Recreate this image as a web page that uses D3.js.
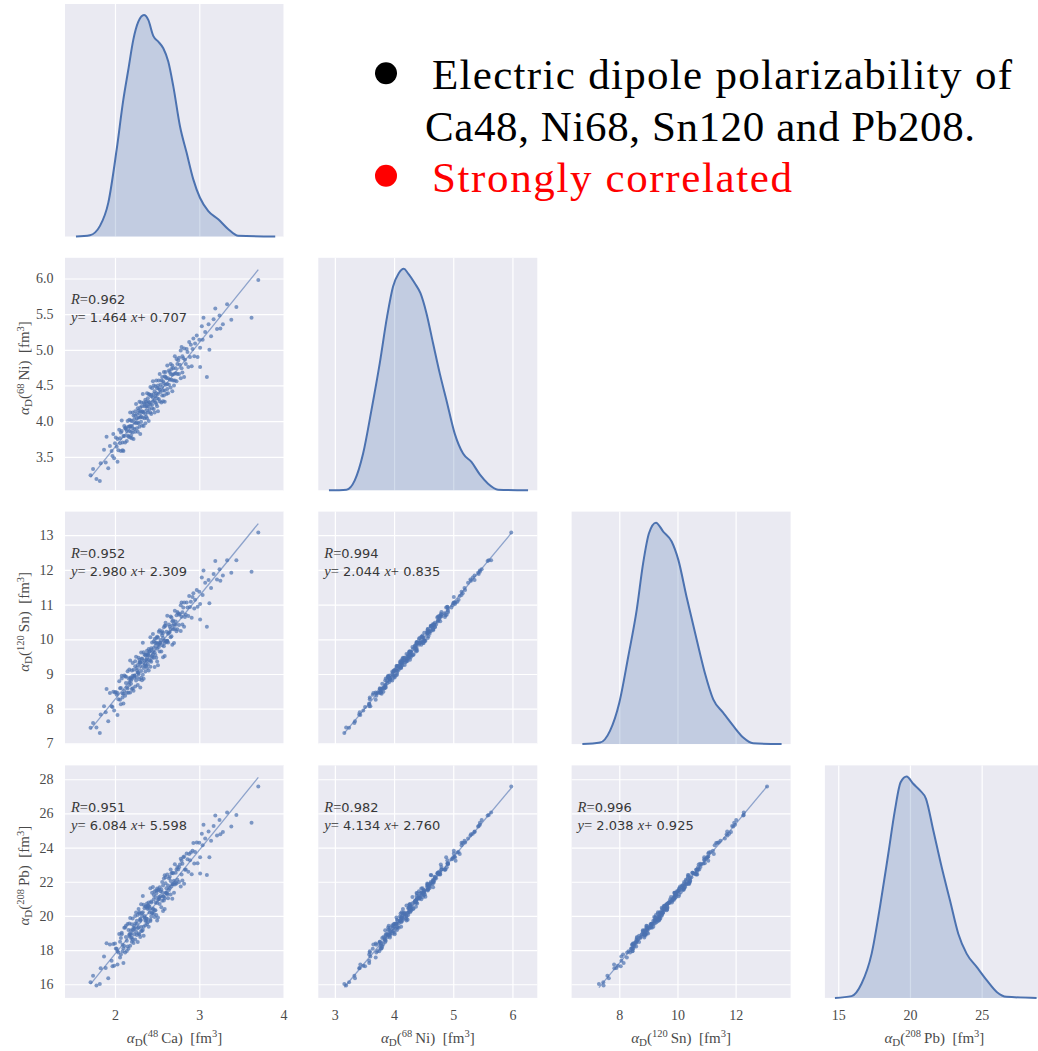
<!DOCTYPE html>
<html>
<head>
<meta charset="utf-8">
<script src="https://cdn.jsdelivr.net/npm/d3@7"></script>
<style>
  body { margin: 0; background: #fff; }
  svg { display: block; }
  text { white-space: pre; }
</style>
</head>
<body>
<svg id="chart" width="1038" height="1051"></svg>
<script>
var WIDTH = 1038;
var HEIGHT = 1051;
var PANEL_LEFT = 65;
var PANEL_TOP = 4;
var COL_STEP = 253.3;
var ROW_STEP = 253.8;
var PANEL_W = 219;
var PANEL_H = 232.5;
var BLUE = "#4c72b0";

var ELEMENTS = ["Ca", "Ni", "Sn", "Pb"];
var MASSES = ["48", "68", "120", "208"];
var X_DOMAINS = [[1.407, 4.005], [2.72, 6.42], [6.36, 13.89], [14.07, 29.34]];
var Y_DOMAINS = [[0, 1.05], [3.03, 6.29], [6.98, 13.68], [15.2, 28.81]];
var X_TICKS = [[2, 3, 4], [3, 4, 5, 6], [8, 10, 12], [15, 20, 25]];
var Y_TICKS = [[], [3.5, 4.0, 4.5, 5.0, 5.5, 6.0], [7, 8, 9, 10, 11, 12, 13], [16, 18, 20, 22, 24, 26, 28]];

// regression text shown in each lower panel [row, col]
var FIT_PAIRS = [[1, 0], [2, 0], [2, 1], [3, 0], [3, 1], [3, 2]];
var FIT_R = ["0.962", "0.952", "0.994", "0.951", "0.982", "0.996"];
var FIT_SLOPE = [1.464, 2.980, 2.044, 6.084, 4.134, 2.038];
var FIT_INTERCEPT = [0.707, 2.309, 0.835, 5.598, 2.760, 0.925];

// KDE curves on the diagonal, [value, density / peak]
var KDE_CA = [[1.537,0],[1.703,0.006],[1.822,0.048],[1.921,0.153],[2.020,0.393],[2.099,0.618],[2.158,0.753],[2.217,0.888],[2.277,0.970],[2.344,1.0],[2.395,0.978],[2.454,0.906],[2.514,0.880],[2.573,0.850],[2.632,0.790],[2.692,0.678],[2.771,0.498],[2.850,0.378],[2.929,0.258],[3.008,0.175],[3.107,0.115],[3.225,0.078],[3.344,0.033],[3.463,0.003],[3.901,0]];
var KDE_NI = [[2.90,0],[3.196,0.003],[3.336,0.045],[3.477,0.166],[3.618,0.362],[3.758,0.573],[3.882,0.784],[3.983,0.920],[4.079,0.980],[4.164,1.0],[4.236,0.980],[4.350,0.935],[4.446,0.890],[4.547,0.800],[4.659,0.664],[4.772,0.528],[4.885,0.407],[5.025,0.256],[5.166,0.166],[5.307,0.128],[5.448,0.072],[5.588,0.030],[5.757,0.003],[6.264,0]];
var KDE_SN = [[6.73,0],[7.34,0.007],[7.68,0.060],[8.0,0.187],[8.31,0.397],[8.60,0.607],[8.82,0.817],[9.02,0.952],[9.26,1.0],[9.51,0.960],[9.80,0.915],[10.03,0.832],[10.31,0.667],[10.66,0.472],[10.94,0.322],[11.23,0.202],[11.57,0.142],[11.92,0.082],[12.26,0.030],[12.60,0.004],[13.58,0]];
var KDE_PB = [[14.77,0],[15.93,0.008],[16.63,0.065],[17.33,0.200],[17.91,0.411],[18.49,0.651],[18.95,0.847],[19.35,0.974],[19.77,1.0],[20.23,0.967],[20.70,0.937],[21.12,0.899],[21.63,0.756],[22.21,0.591],[22.79,0.441],[23.37,0.290],[23.95,0.200],[24.65,0.140],[25.35,0.080],[26.05,0.027],[26.74,0.005],[28.83,0]];
var KDES = [KDE_CA, KDE_NI, KDE_SN, KDE_PB];

// samples: [Ca, Ni, Sn, Pb] polarizabilities (estimated from the clouds)
var SAMPLES = [
  [1.71,3.24,7.45,16.12],[1.74,3.33,7.59,16.49],[1.78,3.19,7.46,15.93],[1.82,3.16,7.30,16.02],[1.83,3.41,7.83,16.93],
  [1.87,3.60,8.07,17.62],[1.89,3.42,7.90,16.95],[1.90,3.78,8.57,18.40],[1.92,3.34,7.64,16.35],[1.94,3.65,8.45,18.33],
  [1.96,3.58,8.07,17.37],[1.97,3.51,8.05,17.05],[1.98,3.82,8.49,18.35],[1.99,3.48,7.95,17.08],[2.00,3.69,8.47,18.39],
  [2.01,3.77,8.48,18.09],[2.02,3.64,8.40,18.07],[2.03,3.43,7.82,17.16],[2.03,3.75,8.45,17.93],[2.04,3.59,8.27,17.86],
  [2.05,3.88,8.79,18.94],
  [2.06,3.69,8.26,17.56],[2.06,3.76,8.59,18.48],[2.07,3.58,8.13,17.74],[2.08,3.86,8.87,18.92],[2.08,4.01,8.95,19.02],
  [2.09,3.70,8.44,18.31],[2.10,3.79,8.43,18.11],[2.10,3.58,8.15,17.25],[2.11,3.93,8.96,19.31],[2.11,3.79,8.52,18.24],
  [2.12,3.90,8.93,19.32],[2.12,3.70,8.37,17.86],[2.13,3.89,8.74,18.77],[2.13,3.91,8.93,19.42],[2.14,3.72,8.46,17.95],
  [2.14,3.86,8.61,18.55],[2.15,4.00,9.08,19.53],[2.15,3.80,8.58,18.21],[2.09,3.59,8.32,17.93],[2.07,3.84,8.60,18.70],
  [2.16,3.92,8.88,19.17],[2.16,3.78,8.46,18.07],[2.17,4.02,9.13,19.55],[2.17,3.86,8.68,18.84],[2.18,4.12,9.39,19.88],
  [2.18,3.77,8.47,18.26],[2.18,3.93,8.88,18.97],[2.19,3.85,8.81,19.16],[2.19,4.01,8.90,18.92],[2.20,3.76,8.57,18.49],
  [2.20,3.93,8.86,18.73],[2.20,4.00,9.10,19.51],[2.21,3.84,8.59,18.60],[2.21,4.12,9.32,19.85],[2.21,3.90,8.95,19.17],
  [2.22,4.08,9.12,19.31],[2.22,3.75,8.52,18.42],[2.23,4.03,8.96,19.25],[2.23,3.89,8.89,18.92],[2.23,3.98,8.95,19.41],
  [2.24,4.14,9.37,19.99],[2.24,3.85,8.64,18.62],[2.24,4.08,9.22,19.56],[2.25,3.97,8.81,19.07],[2.25,4.24,9.50,20.20],
  [2.19,3.80,8.72,18.71],[2.17,3.92,8.77,18.91],
  [2.26,4.10,9.17,19.71],[2.26,3.90,8.91,18.88],[2.26,4.04,9.11,19.54],[2.27,4.18,9.26,20.05],[2.27,3.98,9.04,19.27],
  [2.27,3.85,8.68,18.47],[2.28,4.15,9.47,20.40],[2.28,4.05,9.03,19.33],[2.28,3.97,8.99,18.97],[2.29,4.27,9.41,20.22],
  [2.29,3.92,8.85,18.91],[2.29,4.11,9.33,20.14],[2.30,4.19,9.34,19.84],[2.30,4.05,9.23,19.77],[2.30,3.82,8.61,18.77],
  [2.30,4.14,9.33,19.72],[2.31,3.99,8.89,19.12],[2.31,4.26,9.62,20.68],[2.31,4.06,9.09,19.35],[2.32,4.14,9.43,20.16],
  [2.32,3.94,8.82,19.12],[2.32,4.21,9.45,20.00],[2.33,4.38,9.90,21.17],[2.33,4.05,8.98,19.18],[2.33,4.13,9.33,20.22],
  [2.34,3.93,8.86,18.84],[2.34,4.26,9.63,20.65],[2.34,4.12,9.17,19.36],[2.35,4.24,9.56,20.45],[2.35,4.04,9.23,19.91],
  [2.35,4.21,9.39,19.99],
  [2.36,4.10,9.28,19.72],[2.36,4.30,9.53,20.55],[2.36,3.97,9.07,19.45],[2.37,4.21,9.41,19.85],[2.37,4.27,9.56,20.55],
  [2.37,4.06,9.23,19.71],[2.38,4.39,9.67,20.72],[2.38,4.15,9.37,19.84],[2.38,4.25,9.46,20.47],[2.38,4.04,9.17,19.53],
  [2.39,4.32,9.55,20.40],[2.39,4.21,9.58,20.61],[2.39,4.12,9.28,19.63],[2.40,4.38,9.72,20.79],[2.40,4.00,9.10,19.37],
  [2.40,4.27,9.54,20.60],[2.41,4.37,9.65,20.54],[2.41,4.17,9.40,20.20],[2.41,4.26,9.65,20.44],[2.42,4.12,9.21,19.70],
  [2.42,4.48,10.06,21.62],[2.42,4.23,9.38,19.78],[2.43,4.35,9.74,20.85],[2.43,4.10,9.35,19.96],[2.43,4.37,9.69,20.78],
  [2.44,4.23,9.51,20.18],[2.44,4.46,9.91,21.36],[2.44,4.18,9.47,20.16],[2.45,4.33,9.56,20.44],[2.45,4.28,9.64,20.38],
  [2.45,4.56,10.15,21.69],
  [2.46,4.38,9.75,20.98],[2.46,4.17,9.47,20.13],[2.46,4.50,9.94,21.23],[2.47,4.29,9.63,20.33],[2.47,4.42,10.01,21.45],
  [2.47,4.12,9.20,19.93],[2.48,4.35,9.81,20.78],[2.48,4.49,9.89,21.10],[2.48,4.26,9.55,20.33],[2.49,4.39,9.91,21.33],
  [2.49,4.24,9.47,20.05],[2.49,4.57,10.04,21.48],[2.50,4.32,9.73,20.75],[2.50,4.46,10.07,21.60],[2.50,4.21,9.36,19.73],
  [2.51,4.50,10.05,21.48],[2.51,4.38,9.88,20.95],[2.51,4.14,9.25,19.91],[2.52,4.46,9.84,20.98],[2.52,4.57,10.22,21.55],
  [2.52,4.31,9.78,21.10],[2.53,4.44,9.90,21.06],[2.53,4.28,9.65,20.69],[2.53,4.66,10.26,21.68],[2.54,4.41,9.90,21.16],
  [2.54,4.51,9.98,21.45],[2.55,4.26,9.65,20.51],[2.55,4.57,10.18,21.54],
  [2.56,4.36,9.83,20.89],[2.56,4.62,10.23,21.99],[2.56,4.48,10.11,21.38],[2.57,4.28,9.48,20.29],[2.57,4.56,10.18,21.78],
  [2.57,4.43,10.04,21.15],[2.58,4.69,10.35,22.19],[2.58,4.36,9.80,20.90],[2.58,4.53,9.96,21.12],[2.59,4.63,10.39,22.38],
  [2.59,4.43,9.89,21.03],[2.59,4.27,9.52,20.41],[2.60,4.62,10.39,21.91],[2.60,4.51,9.96,21.35],[2.60,4.69,10.48,22.26],
  [2.61,4.38,9.92,21.34],[2.61,4.60,10.22,21.62],[2.62,4.52,9.95,21.26],[2.62,4.78,10.68,22.43],[2.62,4.45,9.96,21.32],
  [2.63,4.60,10.16,21.78],[2.63,4.39,9.91,21.04],[2.64,4.71,10.43,22.21],[2.64,4.51,10.19,21.51],[2.65,4.69,10.36,22.29],
  [2.65,4.58,10.21,21.62],
  [2.66,4.66,10.30,22.04],[2.66,4.47,10.06,21.25],[2.66,4.80,10.66,22.72],[2.67,4.58,10.09,21.72],[2.67,4.73,10.63,22.49],
  [2.68,4.42,9.84,21.00],[2.68,4.65,10.40,21.87],[2.68,4.78,10.52,22.52],[2.69,4.57,10.29,21.86],[2.69,4.74,10.54,22.50],
  [2.70,4.50,9.89,21.35],[2.70,4.66,10.44,22.06],[2.71,4.91,10.82,23.03],[2.71,4.57,10.30,21.84],[2.72,4.74,10.51,22.53],
  [2.72,4.67,10.42,21.95],[2.73,4.87,10.69,22.71],[2.73,4.56,10.23,21.90],[2.74,4.80,10.79,22.86],[2.74,4.66,10.29,22.11],
  [2.75,4.85,10.75,22.71],
  [2.76,4.66,10.41,21.99],[2.76,4.89,10.71,22.85],[2.77,4.79,10.73,23.01],[2.78,4.60,10.24,21.72],[2.78,4.99,10.98,23.34],
  [2.79,4.74,10.65,22.43],[2.80,4.91,10.78,23.06],[2.80,4.68,10.43,22.07],[2.81,4.88,10.92,23.44],[2.82,5.02,11.06,23.48],
  [2.82,4.62,10.36,21.88],[2.83,4.86,10.64,22.70],[2.84,4.80,10.71,22.72],[2.85,5.01,11.06,23.65],[2.79,5.04,11.06,23.23],
  [2.86,4.97,10.92,23.32],[2.87,4.76,10.67,22.58],[2.88,5.11,11.25,23.63],[2.89,4.90,10.93,23.26],[2.90,5.07,11.08,23.71],
  [2.91,4.77,10.62,22.44],[2.92,5.01,11.22,23.82],[2.93,5.16,11.33,24.27],[2.94,4.91,10.89,23.07],[2.95,5.09,11.14,23.74],
  [2.97,5.20,11.42,24.30],[2.98,4.90,10.94,23.08],[3.00,5.14,11.37,24.28],[3.01,5.03,11.02,23.43],[3.03,5.33,11.78,24.81],
  [3.04,5.14,11.28,24.13],[3.07,5.25,11.63,24.53],[3.09,4.62,10.36,22.40],[3.11,5.36,11.71,24.94],[3.14,5.19,11.48,24.40],
  [3.17,5.43,11.88,25.26],[3.21,5.29,11.72,24.71],[3.24,5.48,12.02,25.62],[3.28,5.36,11.84,24.91],[3.33,5.64,12.28,26.05],
  [3.44,5.60,12.28,25.90],[3.62,5.45,11.95,25.46],[3.70,5.98,13.08,27.57],[3.38,5.42,11.92,25.23],[3.19,5.58,12.26,25.88],
  [3.25,5.30,11.69,24.78],[3.05,5.45,11.98,25.34],[3.12,5.00,11.04,23.44],[3.01,4.76,10.57,22.48]
];

var LEGEND_LINES = [
  { text: "Electric dipole polarizability of", bullet: "#000000", color: "#000000" },
  { text: "Ca48, Ni68, Sn120 and Pb208.", bullet: null, color: "#000000" },
  { text: "Strongly correlated", bullet: "#ff0000", color: "#ff0000" }
];

var svg = d3.select("#chart");

function mathLabel(sel, mass, elem) {
  sel.append("tspan").attr("font-style", "italic").text("α");
  sel.append("tspan").attr("font-size", "11px").attr("dy", 3).text("D");
  sel.append("tspan").attr("dy", -3).text("(");
  sel.append("tspan").attr("font-size", "10.5px").attr("dy", -5.5).text(mass);
  sel.append("tspan").attr("dy", 5.5).text("\u2009" + elem + ")\u2002[fm");
  sel.append("tspan").attr("font-size", "10.5px").attr("dy", -5.5).text("3");
  sel.append("tspan").attr("dy", 5.5).text("]");
}

function gridLines(g, scale, ticks, vertical) {
  var axis = vertical
    ? d3.axisBottom(scale).tickValues(ticks).tickSize(-PANEL_H).tickFormat("")
    : d3.axisLeft(scale).tickValues(ticks).tickSize(-PANEL_W).tickFormat("");
  var a = g.append("g")
    .attr("transform", vertical ? "translate(0," + PANEL_H + ")" : null)
    .call(axis);
  a.select(".domain").remove();
  a.selectAll("line").attr("stroke", "#ffffff").attr("stroke-width", 1.2);
}

for (var row = 0; row < 4; row++) {
  for (var col = 0; col <= row; col++) {
    var g = svg.append("g")
      .attr("transform", "translate(" + (PANEL_LEFT + col * COL_STEP) + "," + (PANEL_TOP + row * ROW_STEP) + ")");
    g.append("rect").attr("width", PANEL_W).attr("height", PANEL_H).attr("fill", "#eaeaf2");

    var x = d3.scaleLinear().domain(X_DOMAINS[col]).range([0, PANEL_W]);
    var y = d3.scaleLinear().domain(row === col ? Y_DOMAINS[0] : Y_DOMAINS[row]).range([PANEL_H, 0]);

    gridLines(g, x, X_TICKS[col], true);

    if (row === col) {
      var kde = KDES[col];
      var area = d3.area().x(function (d) { return x(d[0]); }).y0(y(0)).y1(function (d) { return y(d[1]); })
        .curve(d3.curveMonotoneX);
      var line = d3.line().x(function (d) { return x(d[0]); }).y(function (d) { return y(d[1]); })
        .curve(d3.curveMonotoneX);
      g.append("path").attr("d", area(kde)).attr("fill", BLUE).attr("fill-opacity", 0.25);
      g.append("path").attr("d", line(kde)).attr("fill", "none").attr("stroke", BLUE).attr("stroke-width", 2);
    } else {
      gridLines(g, y, Y_TICKS[row], false);
      (function (r, c, x, y, g) {
        g.append("g").selectAll("circle")
          .data(SAMPLES)
          .enter().append("circle")
          .attr("cx", function (d) { return x(d[c]); })
          .attr("cy", function (d) { return y(d[r]); })
          .attr("r", 2)
          .attr("fill", BLUE)
          .attr("fill-opacity", 0.7);

        var k = FIT_PAIRS.findIndex(function (p) { return p[0] === r && p[1] === c; });
        var ext = d3.extent(SAMPLES, function (d) { return d[c]; });
        var fitLine = d3.line()
          .x(function (v) { return x(v); })
          .y(function (v) { return y(FIT_SLOPE[k] * v + FIT_INTERCEPT[k]); });
        g.append("path").attr("d", fitLine(ext))
          .attr("stroke", BLUE).attr("stroke-width", 1.3).attr("stroke-opacity", 0.6).attr("fill", "none");

        var t1 = g.append("text").attr("x", 6).attr("y", 46.5).attr("fill", "#383838").attr("font-size", "13px");
        t1.append("tspan").attr("font-family", "Liberation Serif").attr("font-style", "italic").attr("font-size", "14.5px").text("R");
        t1.append("tspan").attr("font-family", "Liberation Serif").attr("font-size", "14.5px").text("=");
        t1.append("tspan").attr("font-family", "DejaVu Sans").text(FIT_R[k]);

        var t2 = g.append("text").attr("x", 6).attr("y", 64.5).attr("fill", "#383838").attr("font-size", "13px");
        t2.append("tspan").attr("font-family", "Liberation Serif").attr("font-style", "italic").attr("font-size", "14.5px").text("y");
        t2.append("tspan").attr("font-family", "Liberation Serif").attr("font-size", "14.5px").text("=");
        t2.append("tspan").attr("font-family", "DejaVu Sans").text(" " + FIT_SLOPE[k].toFixed(3) + " ");
        t2.append("tspan").attr("font-family", "Liberation Serif").attr("font-style", "italic").attr("font-size", "14.5px").text("x");
        t2.append("tspan").attr("font-family", "Liberation Serif").attr("font-size", "14.5px").text("+");
        t2.append("tspan").attr("font-family", "DejaVu Sans").text(" " + FIT_INTERCEPT[k].toFixed(3));
      })(row, col, x, y, g);
    }

    // tick labels and axis titles on the outer edges
    if (row === 3) {
      var ax = g.append("g").attr("transform", "translate(0," + PANEL_H + ")")
        .call(d3.axisBottom(x).tickValues(X_TICKS[col]).tickSize(0).tickPadding(12.5).tickFormat(d3.format("d")));
      ax.select(".domain").remove();
      ax.selectAll("text").attr("font-family", "Liberation Serif").attr("font-size", "14px").attr("fill", "#4a4a4a");
      var xl = g.append("text").attr("x", PANEL_W / 2).attr("y", PANEL_H + 45)
        .attr("text-anchor", "middle").attr("font-family", "Liberation Serif").attr("font-size", "15px").attr("fill", "#4a4a4a");
      mathLabel(xl, MASSES[col], ELEMENTS[col]);
    }
    if (col === 0 && row > 0) {
      var fmt = row === 1 ? d3.format(".1f") : d3.format("d");
      var ay = g.append("g")
        .call(d3.axisLeft(y).tickValues(Y_TICKS[row]).tickSize(0).tickPadding(11.5).tickFormat(fmt));
      ay.select(".domain").remove();
      ay.selectAll("text").attr("font-family", "Liberation Serif").attr("font-size", "14px").attr("fill", "#4a4a4a");
      var yl = g.append("text")
        .attr("transform", "translate(" + (29 - PANEL_LEFT) + "," + (PANEL_H / 2 - 6) + ") rotate(-90)")
        .attr("text-anchor", "middle").attr("font-family", "Liberation Serif").attr("font-size", "15px").attr("fill", "#4a4a4a");
      mathLabel(yl, MASSES[row], ELEMENTS[row]);
    }
  }
}

// legend text block
var legend = svg.append("g");
var legendX = [432, 425, 432];
var legendY = [89.3, 140.7, 191.7];
var legendLen = [580, 550, 360];
LEGEND_LINES.forEach(function (d, i) {
  if (d.bullet) {
    legend.append("circle").attr("cx", 386).attr("cy", legendY[i] - 16).attr("r", 11).attr("fill", d.bullet);
  }
  legend.append("text")
    .attr("x", legendX[i]).attr("y", legendY[i])
    .attr("font-family", "Liberation Serif").attr("font-size", "43px")
    .attr("fill", d.color)
    .attr("textLength", legendLen[i]).attr("lengthAdjust", "spacing")
    .text(d.text);
});
</script>
</body>
</html>
